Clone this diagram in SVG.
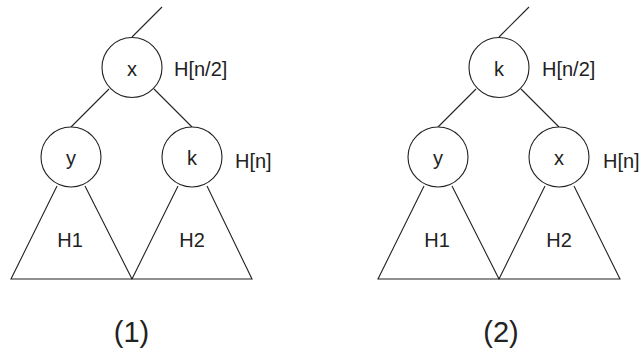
<svg xmlns="http://www.w3.org/2000/svg" width="639" height="352" viewBox="0 0 639 352">
<style>
.n{fill:#fff;stroke:#222;stroke-width:1.1}
.e{stroke:#222;stroke-width:1.1;fill:none}
.t{font-family:"Liberation Sans",Arial,sans-serif;font-size:20px;fill:#222}
.c{text-anchor:middle}
.cap{font-family:"Liberation Sans",Arial,sans-serif;font-size:29px;fill:#222;text-anchor:middle}
</style>
<rect width="639" height="352" fill="#fff"/>
<g id="connectors">
<line class="e" x1="132" y1="37" x2="162" y2="7"/>
<line class="e" x1="109" y1="89" x2="71" y2="127"/>
<line class="e" x1="154" y1="89" x2="192" y2="127"/>
<path class="e" d="M57,186 L11,279 L252,279 L207,186 M85,186 L132,279 L178,186"/>
<line class="e" x1="499" y1="37" x2="529" y2="7"/>
<line class="e" x1="476" y1="89" x2="438" y2="127"/>
<line class="e" x1="521" y1="89" x2="559" y2="127"/>
<path class="e" d="M424,186 L378,279 L620,279 L574,186 M452,186 L499,279 L545,186"/>
</g>
<g id="tree1-x"><circle class="n" cx="132" cy="67.5" r="30"/><text class="t c" x="132" y="76">x</text><text class="t" x="174" y="76">H[n/2]</text></g>
<g id="tree1-y"><circle class="n" cx="71" cy="157" r="30"/><text class="t c" x="71" y="165">y</text></g>
<g id="tree1-k"><circle class="n" cx="192" cy="157" r="30"/><text class="t c" x="192" y="165">k</text><text class="t" x="235" y="168">H[n]</text></g>
<g id="tree1-H1"><text class="t c" x="70" y="247">H1</text></g>
<g id="tree1-H2"><text class="t c" x="192" y="247">H2</text></g>
<g id="tree2-k"><circle class="n" cx="499" cy="67.5" r="30"/><text class="t c" x="499" y="76">k</text><text class="t" x="542" y="76">H[n/2]</text></g>
<g id="tree2-y"><circle class="n" cx="438" cy="157" r="30"/><text class="t c" x="438" y="165">y</text></g>
<g id="tree2-x"><circle class="n" cx="559" cy="157" r="30"/><text class="t c" x="559" y="165">x</text><text class="t" x="603" y="168">H[n]</text></g>
<g id="tree2-H1"><text class="t c" x="437" y="247">H1</text></g>
<g id="tree2-H2"><text class="t c" x="559" y="247">H2</text></g>
<text class="cap" x="131.5" y="342">(1)</text>
<text class="cap" x="501" y="342">(2)</text>
</svg>
